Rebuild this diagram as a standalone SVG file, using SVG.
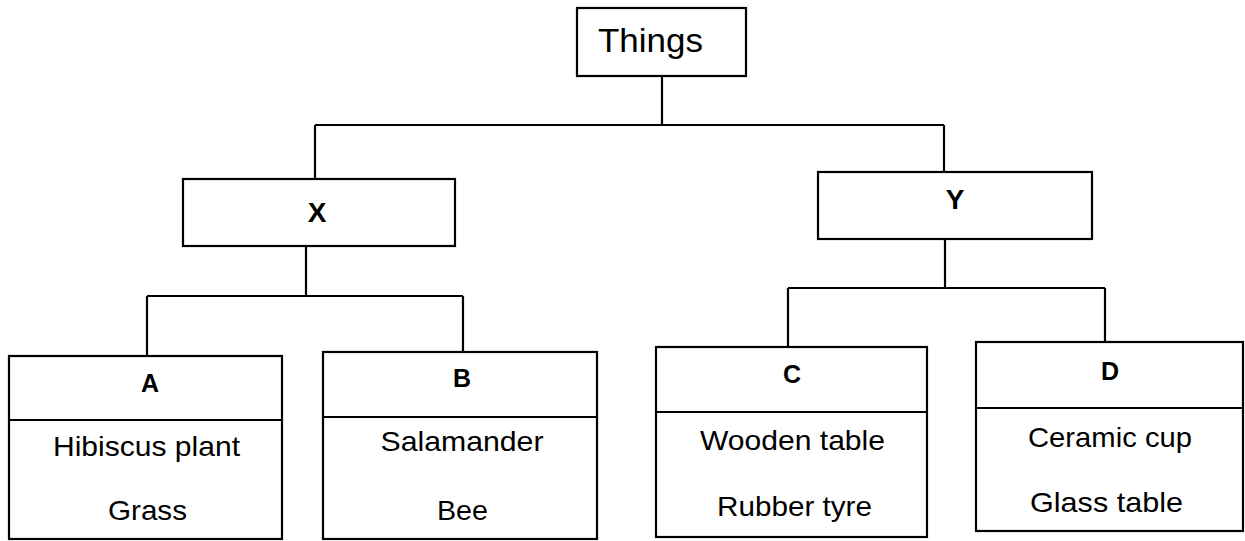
<svg xmlns="http://www.w3.org/2000/svg" width="1245" height="541" viewBox="0 0 1245 541">
<style>
.box{fill:#fff;stroke:#000;stroke-width:2.2}
.ln{fill:none;stroke:#000;stroke-width:2.2}
.t{font-family:"Liberation Sans",Arial,sans-serif;fill:#000;text-anchor:middle}
.big{font-size:33px}
.hd{font-size:25px;font-weight:bold}
.hx{font-size:28px;font-weight:bold}
.it{font-size:28px}
</style>
<rect width="1245" height="541" fill="#fff"/>
<g id="connectors">
<path class="ln" d="M662 76V125M315 125H944M315 125V179M944 125V172"/>
<path class="ln" d="M306 246V296M147 296H463M147 296V356M463 296V352"/>
<path class="ln" d="M945 239V288M788 288H1105M788 288V347M1105 288V342"/>
</g>
<g id="things">
<rect class="box" x="577" y="8" width="169" height="68"/>
<text class="t big" x="650.5" y="52" textLength="105" lengthAdjust="spacingAndGlyphs">Things</text>
</g>
<g id="x">
<rect class="box" x="183" y="179" width="272" height="67"/>
<text class="t hx" x="317" y="222">X</text>
</g>
<g id="y">
<rect class="box" x="818" y="172" width="274" height="67"/>
<text class="t hx" x="955" y="209">Y</text>
</g>
<g id="a">
<rect class="box" x="9" y="356" width="273" height="183"/>
<path class="ln" d="M9 420H282"/>
<text class="t hd" x="150" y="392">A</text>
<text class="t it" x="146.5" y="456" textLength="187" lengthAdjust="spacingAndGlyphs">Hibiscus plant</text>
<text class="t it" x="147.5" y="520" textLength="79" lengthAdjust="spacingAndGlyphs">Grass</text>
</g>
<g id="b">
<rect class="box" x="323" y="352" width="274" height="187"/>
<path class="ln" d="M323 417H597"/>
<text class="t hd" x="462" y="387">B</text>
<text class="t it" x="462" y="451" textLength="163" lengthAdjust="spacingAndGlyphs">Salamander</text>
<text class="t it" x="462.5" y="520" textLength="51" lengthAdjust="spacingAndGlyphs">Bee</text>
</g>
<g id="c">
<rect class="box" x="656" y="347" width="271" height="190"/>
<path class="ln" d="M656 412H927"/>
<text class="t hd" x="792" y="383">C</text>
<text class="t it" x="792.5" y="450" textLength="185" lengthAdjust="spacingAndGlyphs">Wooden table</text>
<text class="t it" x="794.5" y="516" textLength="155" lengthAdjust="spacingAndGlyphs">Rubber tyre</text>
</g>
<g id="d">
<rect class="box" x="976" y="342" width="267" height="189"/>
<path class="ln" d="M976 408H1243"/>
<text class="t hd" x="1110" y="380">D</text>
<text class="t it" x="1110" y="447" textLength="164" lengthAdjust="spacingAndGlyphs">Ceramic cup</text>
<text class="t it" x="1106.5" y="512" textLength="153" lengthAdjust="spacingAndGlyphs">Glass table</text>
</g>
</svg>
